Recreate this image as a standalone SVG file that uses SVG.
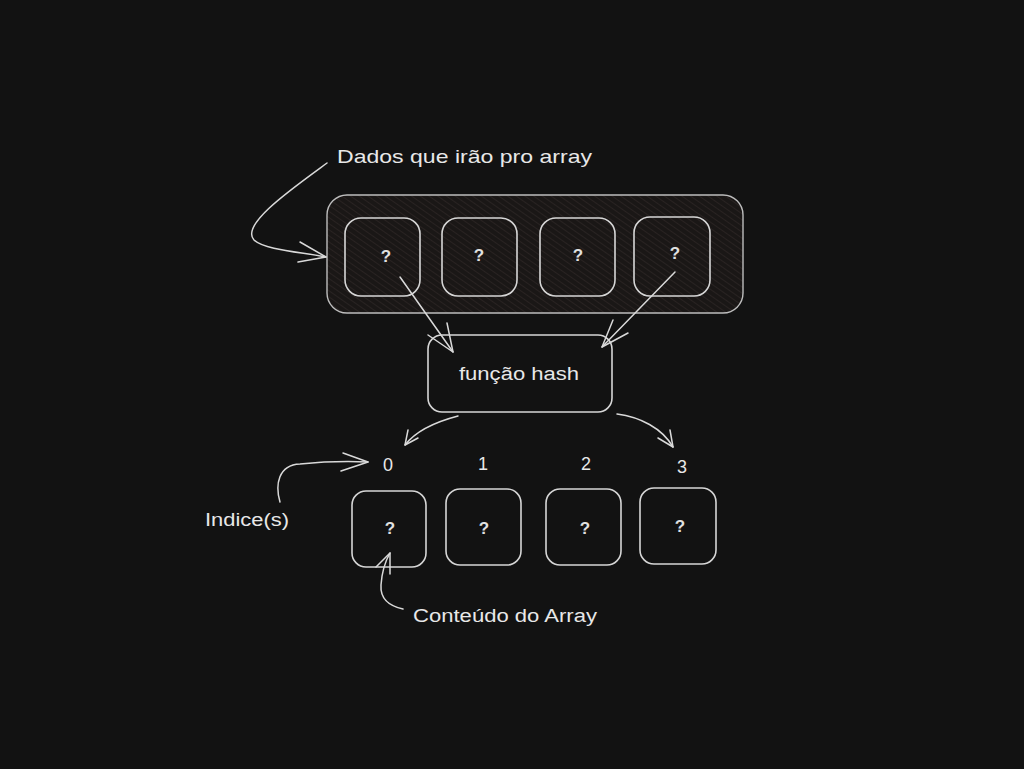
<svg xmlns="http://www.w3.org/2000/svg" width="1024" height="769" viewBox="0 0 1024 769">
<defs>
<pattern id="hatch" width="5" height="5" patternUnits="userSpaceOnUse" patternTransform="rotate(-55)">
<rect width="5" height="5" fill="#1a1716"/>
<line x1="0" y1="0" x2="0" y2="5" stroke="#2f2826" stroke-width="1.4"/>
</pattern>
<style>
.box{fill:none;stroke:#d6d6d6;stroke-width:1.6}
.con{fill:none;stroke:#d9d9d9;stroke-width:1.5;stroke-linecap:round;stroke-linejoin:round}
.t{font-family:"Liberation Sans","DejaVu Sans",sans-serif;fill:#e8e8e8}
.q{font-family:"Liberation Sans",sans-serif;font-size:17px;font-weight:bold;fill:#e0e0e0;text-anchor:middle}
.n{font-family:"Liberation Sans",sans-serif;font-size:18px;fill:#e8e8e8;text-anchor:middle}
</style>
</defs>
<rect width="1024" height="769" fill="#121212"/>

<g id="container">
<rect x="327" y="195" width="416" height="118" rx="20" fill="url(#hatch)" stroke="#bdbdbd" stroke-width="1.4"/>
</g>
<g id="in1"><rect class="box" x="345" y="218" width="75" height="78" rx="16"/><text class="q" x="386" y="262">?</text></g>
<g id="in2"><rect class="box" x="442" y="218" width="75" height="78" rx="16"/><text class="q" x="479" y="261">?</text></g>
<g id="in3"><rect class="box" x="540" y="218" width="75" height="78" rx="16"/><text class="q" x="578" y="261">?</text></g>
<g id="in4"><rect class="box" x="634" y="217" width="76" height="79" rx="16"/><text class="q" x="675" y="259">?</text></g>

<g id="label-dados"><text class="t" x="337" y="163" font-size="19" textLength="255" lengthAdjust="spacingAndGlyphs">Dados que irão pro array</text></g>

<g id="hash"><rect class="box" x="428" y="335" width="184" height="77" rx="14"/><text class="t" x="519" y="380" font-size="18" text-anchor="middle" textLength="120" lengthAdjust="spacingAndGlyphs">função hash</text></g>

<g id="idx0"><text class="n" x="388" y="471">0</text></g>
<g id="idx1"><text class="n" x="483" y="470">1</text></g>
<g id="idx2"><text class="n" x="586" y="470">2</text></g>
<g id="idx3"><text class="n" x="682" y="473">3</text></g>

<g id="out1"><rect class="box" x="352" y="491" width="74" height="76" rx="14"/><text class="q" x="390" y="534">?</text></g>
<g id="out2"><rect class="box" x="446" y="489" width="75" height="76" rx="14"/><text class="q" x="484" y="534">?</text></g>
<g id="out3"><rect class="box" x="546" y="489" width="75" height="76" rx="14"/><text class="q" x="585" y="534">?</text></g>
<g id="out4"><rect class="box" x="640" y="488" width="76" height="76" rx="14"/><text class="q" x="680" y="532">?</text></g>

<g id="label-indice"><text class="t" x="205" y="526" font-size="18" textLength="84" lengthAdjust="spacingAndGlyphs">Indice(s)</text></g>
<g id="label-conteudo"><text class="t" x="413" y="622" font-size="18" textLength="184" lengthAdjust="spacingAndGlyphs">Conteúdo do Array</text></g>

<g id="connectors">
<path class="con" d="M327 163 C 290 190, 240 225, 254 240 C 265 250, 300 252, 326 257"/>
<path class="con" d="M300 242 L326 257 L298 262"/>
<path class="con" d="M400 277 L453 352"/>
<path class="con" d="M428 335 L453 352 L447 323"/>
<path class="con" d="M675 272 L602 347"/>
<path class="con" d="M613 320 L602 347 L628 333"/>
<path class="con" d="M458 416 C 435 422, 415 432, 405 445"/>
<path class="con" d="M408 430 L405 445 L418 438"/>
<path class="con" d="M617 414 C 640 417, 662 428, 673 447"/>
<path class="con" d="M658 438 L673 447 L670 430"/>
<path class="con" d="M280 502 C 275 485, 278 465, 300 464 C 320 462, 345 461, 368 462"/>
<path class="con" d="M343 453 L368 462 L341 471"/>
<path class="con" d="M403 609 C 390 606, 380 600, 381 585 C 382 570, 386 560, 390 553"/>
<path class="con" d="M376 567 L390 553 L390 574"/>
</g>
</svg>
